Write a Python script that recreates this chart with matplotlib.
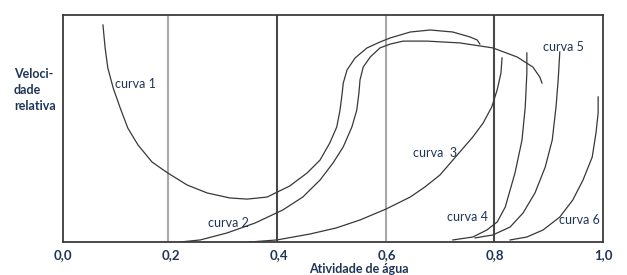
import matplotlib
matplotlib.use("Agg")
import matplotlib.pyplot as plt

# leitura aproximada do gráfico (atividade de água x velocidade relativa)
curva1_x = [0.074, 0.078, 0.083, 0.093, 0.106, 0.120, 0.139, 0.165, 0.194, 0.230, 0.267,
            0.309, 0.341, 0.378, 0.420, 0.452, 0.476, 0.494, 0.507, 0.513, 0.517, 0.519,
            0.526, 0.541, 0.563, 0.587, 0.606, 0.643, 0.680, 0.722, 0.754, 0.767, 0.772]
curva1_y = [0.956, 0.855, 0.767, 0.678, 0.590, 0.502, 0.427, 0.352, 0.304, 0.251, 0.216,
            0.194, 0.189, 0.198, 0.247, 0.304, 0.361, 0.436, 0.507, 0.581, 0.656, 0.700,
            0.758, 0.811, 0.855, 0.881, 0.899, 0.925, 0.934, 0.925, 0.903, 0.890, 0.872]

curva2_x = [0.217, 0.254, 0.304, 0.356, 0.407, 0.444, 0.476, 0.500, 0.519, 0.535, 0.544,
            0.548, 0.550, 0.556, 0.569, 0.587, 0.606, 0.630, 0.674, 0.735, 0.796, 0.841,
            0.870, 0.883, 0.887]
curva2_y = [0.000, 0.009, 0.040, 0.084, 0.141, 0.198, 0.273, 0.348, 0.419, 0.507, 0.581,
            0.656, 0.714, 0.771, 0.815, 0.855, 0.872, 0.885, 0.885, 0.877, 0.855, 0.815,
            0.771, 0.727, 0.700]

curva3_x = [0.346, 0.396, 0.457, 0.506, 0.550, 0.598, 0.643, 0.670, 0.698, 0.730, 0.759,
            0.778, 0.794, 0.804, 0.811, 0.813]
curva3_y = [0.000, 0.009, 0.035, 0.062, 0.097, 0.145, 0.198, 0.242, 0.295, 0.383, 0.463,
            0.524, 0.595, 0.670, 0.744, 0.811]

curva4_x = [0.722, 0.759, 0.785, 0.804, 0.819, 0.837, 0.850, 0.856, 0.859, 0.859]
curva4_y = [0.009, 0.022, 0.053, 0.088, 0.154, 0.304, 0.449, 0.595, 0.744, 0.833]

curva5_x = [0.763, 0.796, 0.828, 0.852, 0.874, 0.893, 0.906, 0.913, 0.917, 0.920]
curva5_y = [0.018, 0.031, 0.066, 0.128, 0.216, 0.330, 0.449, 0.595, 0.714, 0.837]

curva6_x = [0.828, 0.859, 0.889, 0.920, 0.944, 0.963, 0.980, 0.987, 0.991, 0.991]
curva6_y = [0.009, 0.022, 0.053, 0.110, 0.185, 0.273, 0.374, 0.480, 0.568, 0.639]

curvas = [(curva1_x, curva1_y), (curva2_x, curva2_y), (curva3_x, curva3_y),
          (curva4_x, curva4_y), (curva5_x, curva5_y), (curva6_x, curva6_y)]

rotulos = ["curva 1", "curva 2", "curva  3", "curva 4", "curva 5", "curva 6"]
rotulos_x = [0.096, 0.269, 0.648, 0.711, 0.889, 0.918]
rotulos_y = [0.696, 0.084, 0.392, 0.110, 0.859, 0.097]

linhas_x = [0.195, 0.397, 0.598, 0.798]
linhas_cor = ["#a8a8a8", "#484848", "#a8a8a8", "#484848"]

ticks = [0.0, 0.2, 0.4, 0.6, 0.8, 1.0]
tick_labels = ["0,0", "0,2", "0,4", "0,6", "0,8", "1,0"]

plt.rcParams["font.family"] = ["Lato", "DejaVu Sans"]
azul = "#1f3558"

fig = plt.figure(figsize=(6.27, 2.75), dpi=100)
ax = fig.add_axes([63 / 627, 33 / 275, 540 / 627, 227 / 275])
ax.set_xlim(0, 1)
ax.set_ylim(0, 1)

for xv, c in zip(linhas_x, linhas_cor):
    ax.axvline(xv, color=c, lw=1.5, zorder=1)

for cx, cy in curvas:
    ax.plot(cx, cy, color="#383838", lw=0.9, zorder=2, solid_joinstyle="round")

for txt, tx, ty in zip(rotulos, rotulos_x, rotulos_y):
    ax.text(tx, ty, txt, fontsize=9, color=azul, ha="left", va="center", zorder=3)

ax.set_xticks(ticks)
ax.set_xticklabels(tick_labels, fontsize=9.5, fontweight="bold", color=azul)
ax.tick_params(axis="x", length=0, pad=5)
ax.set_yticks([])
for s in ax.spines.values():
    s.set_color("#3c3c3c")
    s.set_linewidth(1.3)

fig.text(359 / 627, 1 - 269 / 275, "Atividade de água", fontsize=9, fontweight="bold",
         color=azul, ha="center", va="center")
fig.text(14 / 627, 1 - 90 / 275, "Veloci-\ndade\nrelativa", fontsize=9, fontweight="bold",
         color=azul, ha="left", va="center", linespacing=1.4)

fig.savefig("out.png", dpi=100)
plt.close(fig)
